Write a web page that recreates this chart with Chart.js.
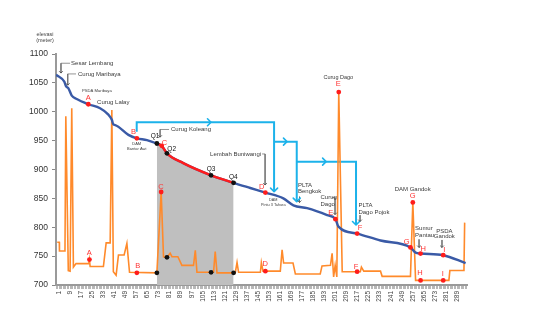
<!DOCTYPE html>
<html>
<head>
<meta charset="utf-8">
<script src="https://cdn.jsdelivr.net/npm/chart.js@4.4.1/dist/chart.umd.min.js"></script>
<style>
  html, body { margin: 0; background: #fff; }
  #wrap { width: 553px; height: 327px; }
</style>
</head>
<body>
<div id="wrap"><canvas id="profil" width="553" height="327"></canvas></div>
<script>
// tick labels on the x axis
const xTickLabels = [1, 9, 17, 25, 33, 41, 49, 57, 65, 73, 81, 89, 97, 105, 113, 121, 129, 137, 145,
  153, 161, 169, 177, 185, 193, 201, 209, 217, 225, 233, 241, 249, 257, 265, 273, 281, 289];

// elevation profile (blue)
const elevX = [-1.2, 4.8, 6.1, 7.7, 10.2, 13.8, 22.2, 30.7, 36.7, 39.2, 40.3, 41.6, 51.2, 57.3, 64.6,
  71.8, 75.3, 79.1, 90.9, 111, 127.3, 139.4, 150.3, 163.3, 170.6, 180.5, 195, 201, 203.2, 216.7,
  233.6, 255.3, 259, 262.6, 279, 295.2];
const elevY = [1064, 1052, 1044, 1041, 1028, 1022, 1013, 1006, 995, 986, 978, 977, 960, 954, 951,
  945, 941, 928, 911, 890, 877, 868, 860, 850, 838, 833, 821, 814, 801, 789,
  777, 765, 756, 754.5, 751.6, 738];

// lower orange series
const lowX = [-0.3, 1.2, 1.3, 5.3, 5.9, 7.7, 9.0, 10.2, 11.4, 13.3, 22.5, 23, 23.5, 33.1, 35.1, 38,
  39.2, 40.3, 42.3, 44, 48.1, 50.1, 52, 71.8, 74.9, 76.6, 79, 81.4, 82.7, 87, 89.9, 98.3, 99.6,
  100.8, 112.8, 114, 115.3, 128.5, 129.8, 130.9, 146.7, 147.4, 148.6, 161.1, 162.4, 163.5, 170.3,
  172, 190, 191.3, 197.4, 198.6, 199.7, 200.8, 202, 203.4, 205.9, 219, 219.8, 221.5, 233.6, 234.8,
  255.3, 257, 259, 283.1, 283.8, 294, 294.5];
const lowY = [774, 774, 759, 759, 992, 725, 724, 1006, 731, 737, 737, 744, 732, 732, 773, 773,
  1003, 723, 717, 752, 752, 772, 722, 721, 861, 749, 748, 755, 749, 749, 734, 734, 760,
  722, 722, 758, 721, 721, 739, 722, 722, 739, 724, 724, 761, 738, 738,
  719, 719, 733, 734, 755, 714, 734, 714, 1034, 723, 723, 731, 724, 724, 715,
  715, 843, 708, 708, 725, 725, 808];

// lettered points
const letters = ['A', 'B', 'C', 'D', 'E', 'F', 'G', 'H', 'I'];
const upperPtX = [22.2, 57.3, 75.3, 150.3, 201, 216.7, 255.3, 262.6, 279];
const upperPtY = [1013, 954, 941, 860, 814, 789, 765, 754.5, 751.6];
const lowerPtX = [23, 57.3, 74.9, 150.3, 203.4, 216.7, 257, 262.6, 279];
const lowerPtY = [744, 721, 861, 724, 1034, 723, 843, 708, 708];

// Q points
const qNames = ['Q1', 'Q2', 'Q3', 'Q4'];
const qUpperY = [945, 928, 890, 877];
const qX = [71.8, 79.1, 111, 127.3];
const qLowerY = [721, 748, 722, 721];

// letter label positions (upper, top spikes, lower)
const upperLblX = [22.2, 54.8, 77.2, 147.7, 197.6, 218.8, 252.6, 264.6, 279.8];
const upperLblY = [1023.4, 965.5, 945.4, 870.3, 825.2, 798.2, 775, 761.8, 760.6];
const spikeLbl = [['E', 203.1, 1047.6], ['G', 256.9, 854.1]];
const lowerLbl = [['A', 22.9, 754.9], ['B', 57.9, 732.9], ['C', 74.8, 869.2], ['D', 150.1, 735.9],
  ['F', 215.9, 731.7], ['H', 262.2, 720.3], ['I', 278.6, 719]];
const qLbl = [[70.5, 956.9], [82.5, 935], [111, 900.4], [127.1, 886.5]];

// place names
const notes = [
  ['Sesar Lembang', 9.7, 1084, 'left', 6],
  ['Curug Maribaya', 14.7, 1065.5, 'left', 6],
  ['PSDA Maribaya', 17.6, 1037, 'left', 4.2],
  ['Curug Lalay', 28.5, 1016, 'left', 6],
  ['DAM', 57.2, 945, 'center', 4],
  ['Bantar Awi', 57.2, 936.4, 'center', 4],
  ['Curug Koleang', 82, 969.3, 'left', 6],
  ['Lembah Buniwangi', 147.2, 926.9, 'right', 6],
  ['DAM', 156, 847.2, 'center', 3.8],
  ['Pintu 3 Tahura', 156, 839.4, 'center', 3.8],
  ['PLTA', 173.9, 873.2, 'left', 6],
  ['Bengkok', 173.9, 862.8, 'left', 6],
  ['Curug', 190.2, 851.6, 'left', 6],
  ['Dago', 190.2, 840.3, 'left', 6],
  ['PLTA', 217.6, 838.6, 'left', 6],
  ['Dago Pojok', 217.6, 825.9, 'left', 6],
  ['Curug Dago', 203.1, 1059, 'center', 5.5],
  ['DAM Gandok', 256.9, 865.8, 'center', 6],
  ['Sumur', 258.6, 798.2, 'left', 6],
  ['Pantau', 258.6, 786.6, 'left', 6],
  ['PSDA', 279.8, 793.5, 'center', 6],
  ['Gandok', 279.8, 783.7, 'center', 6]
];

// pointer lines from names
const pointers = [
  [[9.0, 1084], [2.4, 1084], [2.4, 1067]],
  [[13.3, 1065.5], [7.3, 1065.5], [7.3, 1046]],
  [[80.6, 969.3], [74.1, 969.3], [74.1, 956]],
  [[147.9, 926.9], [150.1, 926.9], [150.1, 873.2]],
  [[198.5, 851.6], [200.7, 851.6], [200.7, 822]],
  [[175, 853], [175, 843]],
  [[218.8, 821], [218.8, 810]],
  [[261.5, 779], [261.5, 765]],
  [[278.1, 778], [278.1, 765]]
];

// flow arrows (cyan)
const flows = [
  [[57.2, 965.5], [57.2, 981.8], [156.6, 981.8], [156.6, 861.6]],
  [[156.6, 948.2], [173, 948.2], [173, 844.3]],
  [[173, 913.6], [215.9, 913.6], [215.9, 803.9]]
];
const flowMid = [[109.5, 981.8], [164.5, 948.2], [192.8, 913.6]];

const FONT = "'Liberation Sans', Arial, Helvetica, sans-serif";
const xy = (xs, ys) => xs.map((v, i) => ({ x: v, y: ys[i] }));
const elev = xy(elevX, elevY);

const datasets = [
  { data: elev.filter(p => p.x >= 71.8 && p.x <= 127.3), borderWidth: 0, fill: 'start',
    backgroundColor: '#bfbfbf', order: 10 },
  { data: xy(lowX, lowY), borderColor: '#ff8a2b', borderWidth: 1.6, order: 8 },
  { data: elev, borderColor: '#3a5aa6', borderWidth: 2.4, cubicInterpolationMode: 'monotone', order: 7 },
  { data: elev.filter(p => p.x >= 71.8 && p.x <= 127.3), borderColor: '#ff1c1c', borderWidth: 2.4,
    cubicInterpolationMode: 'monotone', order: 6 },
  { data: xy(upperPtX, upperPtY).concat(xy(lowerPtX, lowerPtY)), showLine: false, pointRadius: 2.4,
    pointBackgroundColor: '#ff1c1c', pointBorderWidth: 0, order: 1 },
  { data: xy(qX, qUpperY).concat(xy(qX, qLowerY)), showLine: false, pointRadius: 2.4,
    pointBackgroundColor: '#111', pointBorderWidth: 0, order: 1 }
];
flows.forEach(f => datasets.push({ data: f.map(p => ({ x: p[0], y: p[1] })),
  borderColor: '#1cb2ea', borderWidth: 2, order: 9 }));
pointers.forEach(f => datasets.push({ data: f.map(p => ({ x: p[0], y: p[1] })),
  borderColor: '#666', borderWidth: 0.7, order: 5 }));

const overlay = {
  id: 'overlay',
  afterDatasetsDraw(chart) {
    const { ctx, chartArea } = chart;
    const sx = chart.scales.x, sy = chart.scales.y;
    const P = (a, b) => [sx.getPixelForValue(a), sy.getPixelForValue(b)];
    const chev = (px, py, s, dir, col, w) => {
      ctx.beginPath();
      if (dir === 'right') { ctx.moveTo(px - s, py - s); ctx.lineTo(px, py); ctx.lineTo(px - s, py + s); }
      else { ctx.moveTo(px - s, py - s); ctx.lineTo(px, py); ctx.lineTo(px + s, py - s); }
      ctx.strokeStyle = col; ctx.lineWidth = w; ctx.stroke();
    };
    ctx.save();
    ctx.lineCap = 'round'; ctx.lineJoin = 'round';
    flowMid.forEach(m => { const [px, py] = P(m[0], m[1]); chev(px + 2, py, 3.5, 'right', '#1cb2ea', 1.6); });
    flows.forEach(f => { const e = f[f.length - 1]; const [px, py] = P(e[0], e[1]); chev(px, py, 3.5, 'down', '#1cb2ea', 1.6); });
    pointers.forEach(f => { const e = f[f.length - 1]; const [px, py] = P(e[0], e[1]); chev(px, py, 1.6, 'down', '#444', 0.8); });

    ctx.textBaseline = 'middle';
    notes.forEach(n => {
      const [px, py] = P(n[1], n[2]);
      ctx.font = n[4] + 'px ' + FONT; ctx.fillStyle = '#3a3a3a'; ctx.textAlign = n[3];
      ctx.fillText(n[0], px, py);
    });
    ctx.textAlign = 'center';
    ctx.font = '7.5px ' + FONT; ctx.fillStyle = '#ff3434';
    letters.forEach((l, i) => { const [px, py] = P(upperLblX[i], upperLblY[i]); ctx.fillText(l, px, py); });
    spikeLbl.concat(lowerLbl).forEach(l => { const [px, py] = P(l[1], l[2]); ctx.fillText(l[0], px, py); });
    ctx.font = '6.5px ' + FONT; ctx.fillStyle = '#111';
    qNames.forEach((q, i) => { const [px, py] = P(qLbl[i][0], qLbl[i][1]); ctx.fillText(q, px, py); });

    ctx.font = '5.5px ' + FONT; ctx.fillStyle = '#444';
    ctx.fillText('elevasi', chartArea.left - 11, chartArea.top - 20);
    ctx.fillText('(meter)', chartArea.left - 11, chartArea.top - 14);
    ctx.restore();
  }
};

new Chart(document.getElementById('profil'), {
  type: 'line',
  data: { datasets },
  options: {
    responsive: false,
    animation: false,
    devicePixelRatio: 1,
    layout: { padding: { top: 54, right: 86, left: 0, bottom: 0 } },
    elements: { point: { radius: 0 }, line: { tension: 0 } },
    plugins: { legend: { display: false }, tooltip: { enabled: false } },
    scales: {
      x: {
        type: 'linear', min: -1.2, max: 296.2,
        afterBuildTicks: s => { const t = []; for (let v = -1; v <= 296; v++) t.push({ value: v }); s.ticks = t; },
        afterFit: s => { s.height = 42; },
        ticks: { autoSkip: false, minRotation: 90, maxRotation: 90, padding: 2, color: '#444',
          font: { family: FONT, size: 6.5 },
          callback: v => xTickLabels.includes(v) ? String(v) : '' },
        grid: { drawOnChartArea: false, tickLength: 4, color: '#b8b8b8' },
        border: { color: '#9a9a9a', width: 2 }
      },
      y: {
        min: 700, max: 1100,
        afterFit: s => { s.width = 56; },
        ticks: { stepSize: 50, padding: 4, color: '#333', font: { family: FONT, size: 8.5 },
          callback: v => String(v) },
        grid: { drawOnChartArea: false, tickLength: 4, color: '#888' },
        border: { color: '#9a9a9a', width: 2 }
      }
    }
  },
  plugins: [overlay]
});
</script>
</body>
</html>
